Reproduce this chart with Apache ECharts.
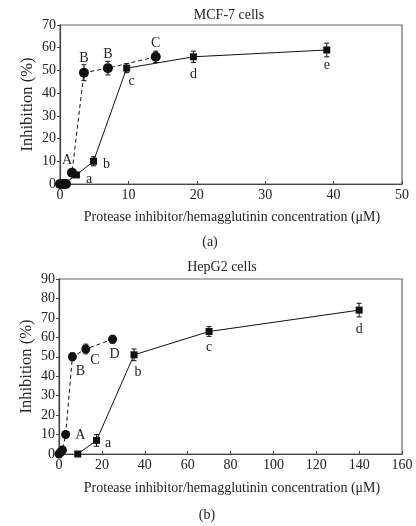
<!DOCTYPE html>
<html><head><meta charset="utf-8">
<script src="https://cdn.jsdelivr.net/npm/echarts@6/dist/echarts.min.js"></script>
<style>html,body{margin:0;padding:0;background:#fff}#c{width:416px;height:526px}</style>
</head><body><div id="c"></div>
<script>
// Panel (a) MCF-7
var aCircX = [0, 0.44, 0.88, 1.75, 3.5, 7, 14];
var aCircY = [0, 0, 0, 5, 49, 51, 56];
var aCircErr = [0, 0, 0, 0, 3.5, 3, 2.5];
var aCircLbl = ['', '', '', 'A', 'B', 'B', 'C'];
var aSqX = [0, 0.6, 2.4, 4.9, 9.75, 19.5, 39];
var aSqY = [0, 0, 4, 10, 51, 56, 59];
var aSqErr = [0, 0, 0, 2, 2, 2.5, 3];
var aSqLbl = ['', '', 'a', 'b', 'c', 'd', 'e'];
// Panel (b) HepG2
var bCircX = [0, 0.8, 1.6, 3.1, 6.25, 12.5, 25];
var bCircY = [0, 1, 2, 10, 50, 54, 59];
var bCircErr = [0, 0, 0, 0, 2, 2.5, 2];
var bCircLbl = ['', '', '', 'A', 'B', 'C', 'D'];
var bSqX = [8.75, 17.5, 35, 70, 140];
var bSqY = [0, 7, 51, 63, 74];
var bSqErr = [0, 3, 3, 2.5, 3.5];
var bSqLbl = ['', 'a', 'b', 'c', 'd'];
var aXTicks = [0, 10, 20, 30, 40, 50];
var aYTicks = [0, 10, 20, 30, 40, 50, 60, 70];
var bXTicks = [0, 20, 40, 60, 80, 100, 120, 140, 160];
var bYTicks = [0, 10, 20, 30, 40, 50, 60, 70, 80, 90];
var titles = ['MCF-7 cells', 'HepG2 cells'];
var xName = 'Protease inhibitor/hemagglutinin concentration (\u03BCM)';
var panelTags = ['(a)', '(b)'];

// label placement styles (presentation only)
var aCircPos = [null, null, null, ['top', [-5, 5]], ['top', [0, 3]], ['top', [0, 3]], ['top', [0, 4]]];
var aSqPos = [null, null, ['right', [1, 4]], ['right', [1, 3]], ['bottom', [5, -2]], ['bottom', [0, 2]], ['bottom', [0, 0]]];
var bCircPos = [null, null, null, ['right', [0, 1]], ['bottom', [8, -2]], ['right', [-5, 11]], ['bottom', [2, -1]]];
var bSqPos = [null, ['right', [0, 3]], ['bottom', [4, 2]], ['bottom', [0, 0]], ['bottom', [0, 4]]];

var FONT = 'Liberation Serif';
var AX = '#444';
var FRAME = '#666';

function pts(xs, ys, lbls, pos) {
  return xs.map(function (x, i) {
    var d = { value: [x, ys[i]] };
    if (lbls[i] && pos[i]) {
      d.label = { show: true, formatter: lbls[i], position: pos[i][0], offset: pos[i][1],
        fontFamily: FONT, fontSize: 14, color: '#222' };
    }
    return d;
  });
}
function errs(xs, ys, es) {
  var out = [];
  xs.forEach(function (x, i) { if (es[i] > 0) out.push([x, ys[i] - es[i], ys[i] + es[i]]); });
  return out;
}
function errSeries(data, gi) {
  return {
    type: 'custom', xAxisIndex: gi, yAxisIndex: gi, z: 1, silent: true,
    data: data,
    renderItem: function (params, api) {
      var lo = api.coord([api.value(0), api.value(1)]);
      var hi = api.coord([api.value(0), api.value(2)]);
      var w = 2.5;
      var st = { stroke: '#111', lineWidth: 1 };
      return { type: 'group', children: [
        { type: 'line', shape: { x1: lo[0], y1: lo[1], x2: hi[0], y2: hi[1] }, style: st },
        { type: 'line', shape: { x1: lo[0] - w, y1: lo[1], x2: lo[0] + w, y2: lo[1] }, style: st },
        { type: 'line', shape: { x1: hi[0] - w, y1: hi[1], x2: hi[0] + w, y2: hi[1] }, style: st }
      ] };
    },
    encode: { x: 0, y: [1, 2] }
  };
}
function xAxis(gi, ticks) {
  return {
    type: 'value', gridIndex: gi, min: ticks[0], max: ticks[ticks.length - 1], interval: ticks[1] - ticks[0],
    axisLine: { lineStyle: { color: AX, width: 1.2 } },
    axisTick: { inside: true, length: 3, lineStyle: { color: AX } },
    axisLabel: { color: '#222', fontFamily: FONT, fontSize: 14, margin: 4 },
    splitLine: { show: false }
  };
}
function yAxis(gi, ticks) {
  return {
    type: 'value', gridIndex: gi, min: ticks[0], max: ticks[ticks.length - 1], interval: ticks[1] - ticks[0],
    name: 'Inhibition (%)', nameLocation: 'middle', nameGap: 24, nameMoveOverlap: false,
    nameTextStyle: { fontFamily: FONT, fontSize: 16.5, color: '#222' },
    axisLine: { show: true, lineStyle: { color: AX, width: 1.2 } },
    axisTick: { show: true, inside: false, length: 3, lineStyle: { color: AX } },
    axisLabel: { color: '#222', fontFamily: FONT, fontSize: 14, margin: 4 },
    splitLine: { show: false }
  };
}
function txt(s, x, y, size) {
  return { type: 'text', x: x, y: y, style: { text: s, fontFamily: FONT, fontSize: size, fill: '#222', textAlign: 'center', textVerticalAlign: 'middle' } };
}

var option = {
  animation: false,
  backgroundColor: '#fff',
  graphic: [
    { type: 'rect', shape: { x: 60, y: 25, width: 342, height: 159 }, style: { fill: 'none', stroke: FRAME, lineWidth: 1.2 }, z: 0 },
    { type: 'rect', shape: { x: 59, y: 279, width: 343, height: 175 }, style: { fill: 'none', stroke: FRAME, lineWidth: 1.2 }, z: 0 },
    txt(titles[0], 229, 15, 14),
    txt(titles[1], 222, 267, 14),
    txt(xName, 232, 217, 14),
    txt(xName, 232, 488, 14),
    txt(panelTags[0], 210, 242, 14),
    txt(panelTags[1], 207, 515, 14)
  ],
  grid: [
    { left: 60, top: 25, width: 342, height: 159 },
    { left: 59, top: 279, width: 343, height: 175 }
  ],
  xAxis: [xAxis(0, aXTicks), xAxis(1, bXTicks)],
  yAxis: [yAxis(0, aYTicks), yAxis(1, bYTicks)],
  series: [
    errSeries(errs(aCircX, aCircY, aCircErr), 0),
    errSeries(errs(aSqX, aSqY, aSqErr), 0),
    errSeries(errs(bCircX, bCircY, bCircErr), 1),
    errSeries(errs(bSqX, bSqY, bSqErr), 1),
    { type: 'line', xAxisIndex: 0, yAxisIndex: 0, data: pts(aSqX, aSqY, aSqLbl, aSqPos), symbol: 'rect', symbolSize: 7,
      itemStyle: { color: '#111' }, lineStyle: { color: '#111', width: 1 }, z: 3 },
    { type: 'line', xAxisIndex: 0, yAxisIndex: 0, data: pts(aCircX, aCircY, aCircLbl, aCircPos), symbol: 'circle', symbolSize: 10,
      itemStyle: { color: '#111' }, lineStyle: { color: '#111', width: 1, type: [4, 3] }, z: 4 },
    { type: 'line', xAxisIndex: 1, yAxisIndex: 1, data: pts(bSqX, bSqY, bSqLbl, bSqPos), symbol: 'rect', symbolSize: 7,
      itemStyle: { color: '#111' }, lineStyle: { color: '#111', width: 1 }, z: 3 },
    { type: 'line', xAxisIndex: 1, yAxisIndex: 1, data: pts(bCircX, bCircY, bCircLbl, bCircPos), symbol: 'circle', symbolSize: 9,
      itemStyle: { color: '#111' }, lineStyle: { color: '#111', width: 1, type: [4, 3] }, z: 4 }
  ]
};
var chart = echarts.init(document.getElementById('c'), null, { renderer: 'canvas' });
chart.setOption(option);
</script></body></html>
